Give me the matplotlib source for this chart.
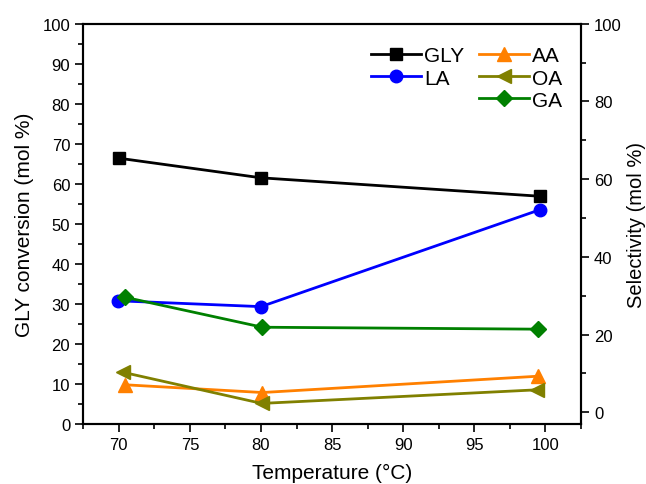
import matplotlib
matplotlib.use("Agg")
import matplotlib.pyplot as plt
from matplotlib.lines import Line2D
from matplotlib.ticker import MultipleLocator

plt.rcParams["font.family"] = ["Liberation Sans", "DejaVu Sans"]

# conversion (left axis)
temp_gly = [70, 80, 99.6]
gly = [66.4, 61.5, 56.9]

# selectivities (right axis)
temp_la = [69.95, 80, 99.6]
la = [28.7, 27.2, 52.1]
temp_aa = [70.4, 80.1, 99.5]
aa = [7.1, 5.1, 9.3]
temp_oa = [70.3, 80.05, 99.45]
oa = [10.3, 2.3, 5.8]
temp_ga = [70.45, 80.1, 99.5]
ga = [29.6, 21.9, 21.4]

fig = plt.figure(figsize=(6.46, 4.85), dpi=100)
ax = fig.add_axes([0.129, 0.1237, 0.770, 0.8254])
ax2 = ax.twinx()

lw = 2
ax.plot(temp_gly, gly, color="black", lw=lw, marker="s", ms=8.5)
ax2.plot(temp_la, la, color="#0000ff", lw=lw, marker="o", ms=9)
ax2.plot(temp_aa, aa, color="#ff8000", lw=lw, marker="^", ms=10)
ax2.plot(temp_oa, oa, color="#808000", lw=lw, marker="<", ms=10)
ax2.plot(temp_ga, ga, color="#008000", lw=lw, marker="D", ms=8.5)

ax.set_xlim(67.5, 102.5)
ax.set_ylim(0, 100)
ax2.set_ylim(-3, 100)

ax.xaxis.set_major_locator(MultipleLocator(5))
ax.xaxis.set_minor_locator(MultipleLocator(2.5))
ax.yaxis.set_major_locator(MultipleLocator(10))
ax.yaxis.set_minor_locator(MultipleLocator(5))
ax2.yaxis.set_major_locator(MultipleLocator(20))
ax2.yaxis.set_minor_locator(MultipleLocator(10))

for a in (ax, ax2):
    a.tick_params(which="major", direction="out", length=6, width=1.2, labelsize=12)
    a.tick_params(which="minor", direction="out", length=3.5, width=1.2)
    for s in a.spines.values():
        s.set_linewidth(1.5)
ax.tick_params(axis="x", top=False)

ax.set_xlabel("Temperature (°C)", fontsize=15, labelpad=8)
ax.set_ylabel("GLY conversion (mol %)", fontsize=15, labelpad=6)
ax2.set_ylabel("Selectivity (mol %)", fontsize=14.5, labelpad=4)

handles = [
    Line2D([], [], color="black", lw=lw, marker="s", ms=8.5),
    Line2D([], [], color="#0000ff", lw=lw, marker="o", ms=9),
    Line2D([], [], color="none"),
    Line2D([], [], color="#ff8000", lw=lw, marker="^", ms=10),
    Line2D([], [], color="#808000", lw=lw, marker="<", ms=10),
    Line2D([], [], color="#008000", lw=lw, marker="D", ms=8.5),
]
labels = ["GLY", "LA", "", "AA", "OA", "GA"]
ax2.legend(handles, labels, ncol=2, loc="upper right", frameon=False,
           fontsize=15, handlelength=2.4, handletextpad=0.15,
           columnspacing=0.7, labelspacing=0.15,
           bbox_to_anchor=(1.0, 0.99))

fig.savefig("out.png", dpi=100)
